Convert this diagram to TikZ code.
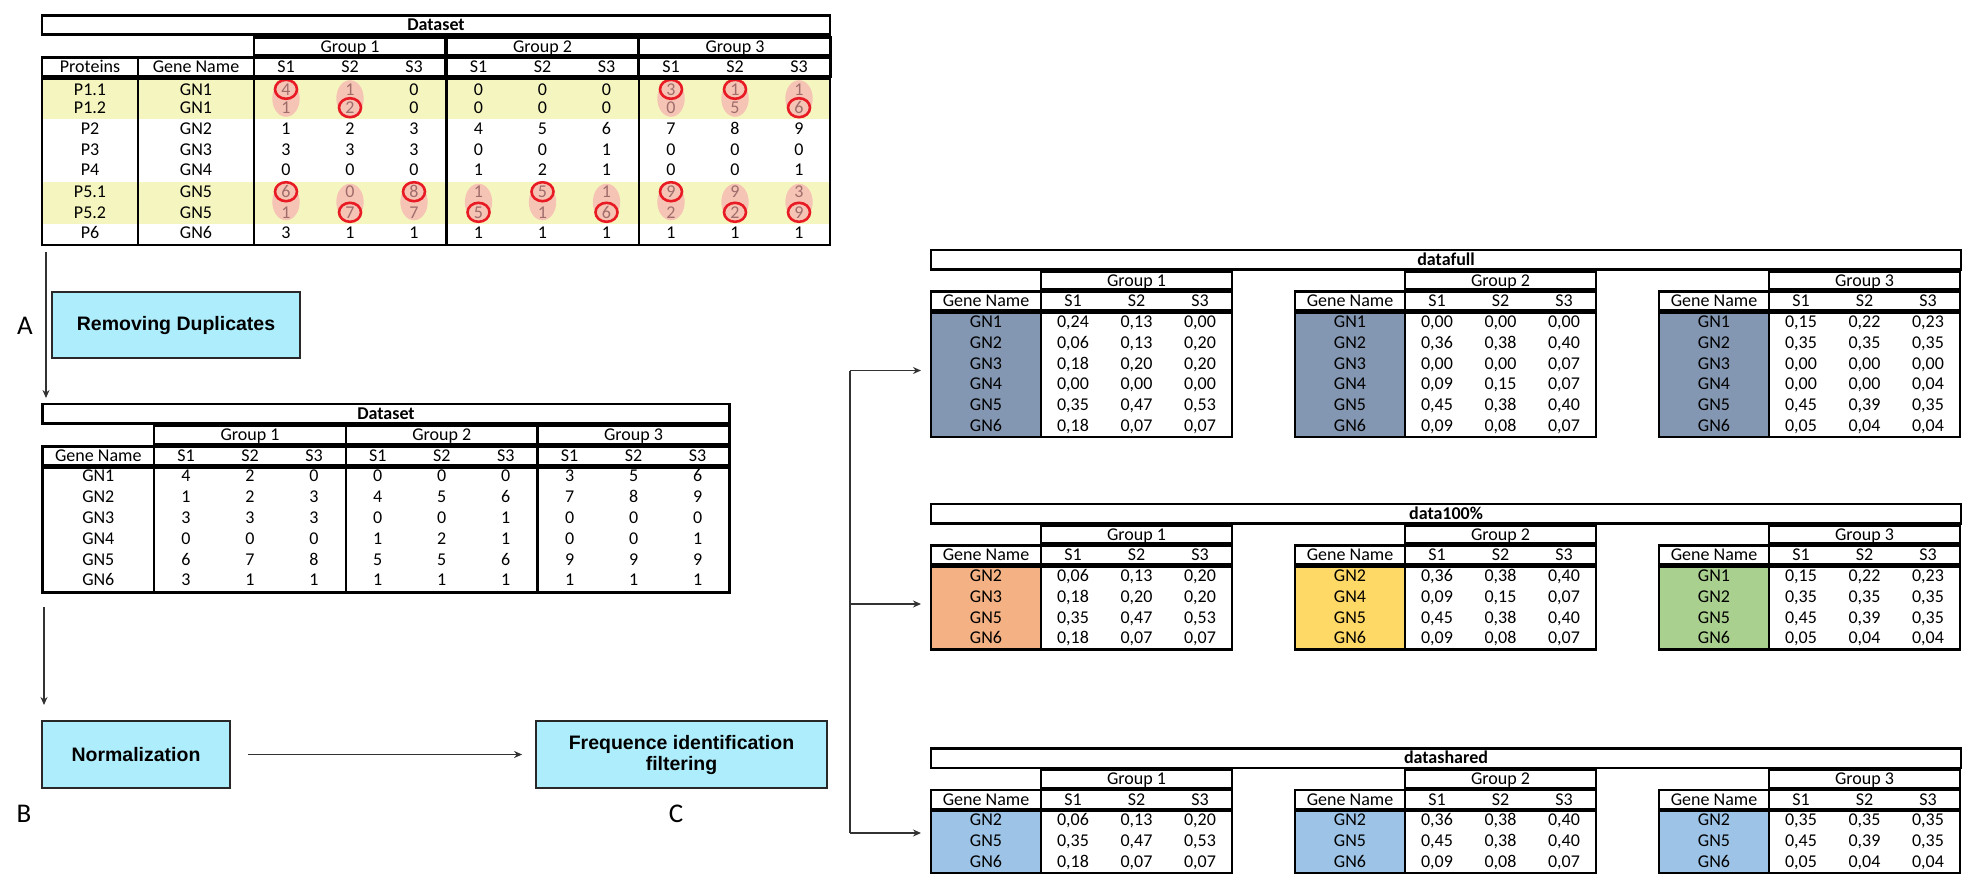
\documentclass[tikz,border=0pt]{standalone}
\usepackage{fontspec}
\setmainfont{Carlito}
\newfontfamily\boxfont{Liberation Sans}
\usetikzlibrary{arrows.meta}
\definecolor{bandyel}{RGB}{245,245,192}
\definecolor{pinkell}{RGB}{246,196,180}
\definecolor{ringred}{RGB}{232,26,36}
\definecolor{fadetxt}{RGB}{160,108,108}
\definecolor{boxcyan}{RGB}{174,238,252}
\definecolor{boxline}{RGB}{40,40,40}
\definecolor{arrline}{RGB}{50,50,50}
\definecolor{slatec}{RGB}{132,151,178}
\definecolor{orangec}{RGB}{244,177,131}
\definecolor{yellowc}{RGB}{255,217,102}
\definecolor{greenc}{RGB}{169,208,142}
\definecolor{bluec}{RGB}{157,195,230}
\newcommand\tabfont{\fontsize{18}{21}\selectfont}
\newcommand\fdc{\color{fadetxt}}
\tikzset{
  tb/.style={draw=black,line width=2.6pt},
  cellt/.style={inner sep=0pt,text height=11.6pt,text depth=0pt,font=\tabfont},
  celltb/.style={cellt,font=\tabfont\bfseries},
  procbox/.style={draw=boxline,line width=1.8pt,fill=boxcyan,inner sep=2pt,align=center,font=\boxfont\bfseries\fontsize{19.5}{21}\selectfont},
  steplabel/.style={inner sep=0pt,font=\fontsize{27}{30}\selectfont},
  arr/.style={draw=arrline,line width=1.5pt,-{Stealth[length=8pt,width=7pt]}},
  pinkoval/.style={fill=pinkell,draw=none},
  redring/.style={draw=ringred,line width=2.6pt},
}
% first table row: index, y, protein, gene, values
\newcommand\Trow[5]{%
  \node[cellt] (ta-p#1) at (90,#2) {#3};
  \node[cellt] (ta-g#1) at (196,#2) {#4};
  \foreach \v [count=\k from 0] in {#5}{%
    \node[cellt] (ta-#1-\k) at ({286+192.5*int(\k/3)+64*mod(\k,3)},#2) {\v};
  }%
}
% second table row: index, y, gene, values
\newcommand\Srow[4]{%
  \node[cellt] (tb-g#1) at (98.3,#2) {#3};
  \foreach \v [count=\k from 0] in {#4}{%
    \node[cellt] (tb-#1-\k) at ({186+191.8*int(\k/3)+64*mod(\k,3)},#2) {\v};
  }%
}
% right tables frame: prefix, title, top y, rows, three fills
\newcommand\Rframe[7]{%
  \pgfmathsetmacro\rT{#3}%
  \pgfmathsetmacro\rD{#3+62.3}%
  \pgfmathsetmacro\rB{#3+62.3+20.75*#4}%
  \foreach \s/\fc [count=\n] in {0/#5,1/#6,2/#7}{%
    \pgfmathsetmacro\xo{931+364*\s}%
    \pgfmathsetmacro\xg{\xo+110}%
    \pgfmathsetmacro\xe{\xg+191}%
    \fill[\fc] (\xo,\rD) rectangle (\xg,\rB);
    \draw[tb] (\xg,{\rT+21.5}) rectangle (\xe,{\rT+39.5});
    \node[cellt] (#1grp\n) at ({\xg+95.5},{\rT+30.5}) {Group \n};
    \draw[tb] (\xo,{\rT+41.5}) rectangle (\xg,{\rT+60.5});
    \draw[tb] (\xg,{\rT+41.5}) rectangle (\xe,{\rT+60.5});
    \node[cellt] (#1gn\n) at ({\xo+55},{\rT+51}) {Gene Name};
    \node[cellt] (#1sa\n) at ({\xg+32},{\rT+51}) {S1};
    \node[cellt] (#1sb\n) at ({\xg+95.5},{\rT+51}) {S2};
    \node[cellt] (#1sc\n) at ({\xg+159},{\rT+51}) {S3};
    \draw[tb] (\xo,\rD) rectangle (\xe,\rB);
    \draw[tb] (\xg,\rD) -- (\xg,\rB);
  }%
  \draw[tb] (931,\rT) rectangle (1961,{\rT+19.5});
  \node[celltb] (#1title) at (1446,{\rT+9.75}) {#2};
}
\newcommand\Rrow[8]{%
  \pgfmathsetmacro\ry{#2+71.8+20.7*(#4-1)}%
  \pgfmathsetmacro\rx{931+364*#3}%
  \node[cellt] (#1r#3#4g) at ({\rx+55},\ry) {#5};
  \node[cellt] (#1r#3#4a) at ({\rx+142},\ry) {0,#6};
  \node[cellt] (#1r#3#4b) at ({\rx+205.5},\ry) {0,#7};
  \node[cellt] (#1r#3#4c) at ({\rx+269},\ry) {0,#8};
}
\newcommand\Rrows[4]{%
  \foreach \gname/\va/\vb/\vc [count=\i] in {#4}{%
    \Rrow{#1}{#2}{#3}{\i}{\gname}{\va}{\vb}{\vc}%
  }%
}
\begin{document}
\begin{tikzpicture}[x=1pt,y=-1pt]
\useasboundingbox (0,0) rectangle (1980,888);

%% ---------- Table 1 ----------
\fill[bandyel] (42,80) rectangle (830,119.3);
\fill[bandyel] (42,182.3) rectangle (830,224);
\foreach \k in {0,1,6,7,8}{
  \fill[pinkoval] ({286+192.5*int(\k/3)+64*mod(\k,3)},98.5) ellipse [x radius=13.7pt, y radius=18.3pt];
}
\foreach \k in {0,...,8}{
  \fill[pinkoval] ({286+192.5*int(\k/3)+64*mod(\k,3)},202) ellipse [x radius=13.7pt, y radius=18.3pt];
}
\foreach \k/\yy in {0/89.3,6/89.3,7/89.3,1/107.7,8/107.7,0/191.7,2/191.7,4/191.7,6/191.7,1/212.3,3/212.3,5/212.3,7/212.3,8/212.3}{
  \draw[redring] ({286+192.5*int(\k/3)+64*mod(\k,3)},\yy) ellipse [x radius=11pt, y radius=9.5pt];
}
\draw[tb] (42,15.7) rectangle (830,34.3);
\node[celltb] (t1title) at (436,25) {Dataset};
\foreach \g [count=\n] in {254,446.5,639}{
  \draw[tb] (\g,37.7) rectangle ({\g+191.5},55.5);
  \node[cellt] (t1grp\n) at ({\g+96},46.6) {Group \n};
  \draw[tb] (\g,57.3) rectangle ({\g+191.5},76.3);
  \foreach \s [count=\m] in {0,1,2}{
    \node[cellt] (t1h\n\m) at ({\g+32+64*\s},66.8) {S\m};
  }
}
\draw[tb] (42,57.3) rectangle (138,76.3);
\draw[tb] (138,57.3) rectangle (254,76.3);
\node[cellt] (t1prot) at (90,66.8) {Proteins};
\node[cellt] (t1gene) at (196,66.8) {Gene Name};
\draw[tb] (42,78.6) rectangle (830,245);
\foreach \xx in {138,254,446.5,639}{ \draw[tb] (\xx,78.6) -- (\xx,245); }
\Trow{1}{89.3}{P1.1}{GN1}{\fdc4,\fdc1,0,0,0,0,\fdc3,\fdc1,\fdc1}
\Trow{2}{107.7}{P1.2}{GN1}{\fdc1,\fdc2,0,0,0,0,\fdc0,\fdc5,\fdc6}
\Trow{3}{128.3}{P2}{GN2}{1,2,3,4,5,6,7,8,9}
\Trow{4}{149.3}{P3}{GN3}{3,3,3,0,0,1,0,0,0}
\Trow{5}{170}{P4}{GN4}{0,0,0,1,2,1,0,0,1}
\Trow{6}{191.7}{P5.1}{GN5}{\fdc6,\fdc0,\fdc8,\fdc1,\fdc5,\fdc1,\fdc9,\fdc9,\fdc3}
\Trow{7}{212.3}{P5.2}{GN5}{\fdc1,\fdc7,\fdc7,\fdc5,\fdc1,\fdc6,\fdc2,\fdc2,\fdc9}
\Trow{8}{232.3}{P6}{GN6}{3,1,1,1,1,1,1,1,1}

%% ---------- Step A ----------
\coordinate (aTop) at (46,252);
\coordinate (aBot) at (46,398);
\draw[arr] (aTop) -- (aBot);
\node[procbox,minimum width=248pt,minimum height=66pt] (remdup) at (176,325) {Removing Duplicates};
\node[steplabel] (labA) at (25,326) {A};

%% ---------- Table 2 ----------
\draw[tb] (42.7,404) rectangle (729.5,423.3);
\node[celltb] (t2title) at (386,413.7) {Dataset};
\foreach \g [count=\n] in {154,345.8,537.6}{
  \draw[tb] (\g,425.7) rectangle ({\g+191.9},444.3);
  \node[cellt] (t2grp\n) at ({\g+96},435) {Group \n};
  \draw[tb] (\g,446.5) rectangle ({\g+191.9},465);
  \foreach \s [count=\m] in {0,1,2}{
    \node[cellt] (t2h\n\m) at ({\g+32+64*\s},455.8) {S\m};
  }
}
\draw[tb] (42.7,446.5) rectangle (154,465);
\node[cellt] (t2gene) at (98.3,455.8) {Gene Name};
\draw[tb] (42.7,467.3) rectangle (729.5,592.7);
\foreach \xx in {154,345.8,537.6}{ \draw[tb] (\xx,467.3) -- (\xx,592.7); }
\Srow{1}{476}{GN1}{4,2,0,0,0,0,3,5,6}
\Srow{2}{496.8}{GN2}{1,2,3,4,5,6,7,8,9}
\Srow{3}{517.6}{GN3}{3,3,3,0,0,1,0,0,0}
\Srow{4}{538.4}{GN4}{0,0,0,1,2,1,0,0,1}
\Srow{5}{559.2}{GN5}{6,7,8,5,5,6,9,9,9}
\Srow{6}{580}{GN6}{3,1,1,1,1,1,1,1,1}

%% ---------- Steps B and C ----------
\coordinate (bTop) at (44,607);
\coordinate (bBot) at (44,705);
\draw[arr] (bTop) -- (bBot);
\node[procbox,minimum width=188pt,minimum height=67pt] (norm) at (136,754.5) {Normalization};
\node[procbox,minimum width=291pt,minimum height=67pt] (freq) at (681.5,754.5) {Frequence identification\\filtering};
\draw[arr,shorten <=17pt,shorten >=13pt] (norm) -- (freq);
\node[steplabel] (labB) at (24,814) {B};
\node[steplabel] (labC) at (676,814) {C};

%% ---------- Bracket ----------
\coordinate (bkt) at (850,370.5);
\coordinate (bkm) at (850,604);
\coordinate (bkb) at (850,833);
\coordinate (dfin) at (921,370.5);
\coordinate (dhin) at (921,604);
\coordinate (dsin) at (921,833);
\draw[draw=arrline,line width=1.5pt] (bkt) -- (bkb);
\draw[arr] (bkt) -- (dfin);
\draw[arr] (bkm) -- (dhin);
\draw[arr] (bkb) -- (dsin);

%% ---------- Right tables ----------
\Rframe{df}{datafull}{250}{6}{slatec}{slatec}{slatec}
\Rrows{df}{250}{0}{GN1/24/13/00,GN2/06/13/20,GN3/18/20/20,GN4/00/00/00,GN5/35/47/53,GN6/18/07/07}
\Rrows{df}{250}{1}{GN1/00/00/00,GN2/36/38/40,GN3/00/00/07,GN4/09/15/07,GN5/45/38/40,GN6/09/08/07}
\Rrows{df}{250}{2}{GN1/15/22/23,GN2/35/35/35,GN3/00/00/00,GN4/00/00/04,GN5/45/39/35,GN6/05/04/04}

\Rframe{dh}{data100\%}{504}{4}{orangec}{yellowc}{greenc}
\Rrows{dh}{504}{0}{GN2/06/13/20,GN3/18/20/20,GN5/35/47/53,GN6/18/07/07}
\Rrows{dh}{504}{1}{GN2/36/38/40,GN4/09/15/07,GN5/45/38/40,GN6/09/08/07}
\Rrows{dh}{504}{2}{GN1/15/22/23,GN2/35/35/35,GN5/45/39/35,GN6/05/04/04}

\Rframe{ds}{datashared}{748.3}{3}{bluec}{bluec}{bluec}
\Rrows{ds}{748.3}{0}{GN2/06/13/20,GN5/35/47/53,GN6/18/07/07}
\Rrows{ds}{748.3}{1}{GN2/36/38/40,GN5/45/38/40,GN6/09/08/07}
\Rrows{ds}{748.3}{2}{GN2/35/35/35,GN5/45/39/35,GN6/05/04/04}
\end{tikzpicture}
\end{document}
